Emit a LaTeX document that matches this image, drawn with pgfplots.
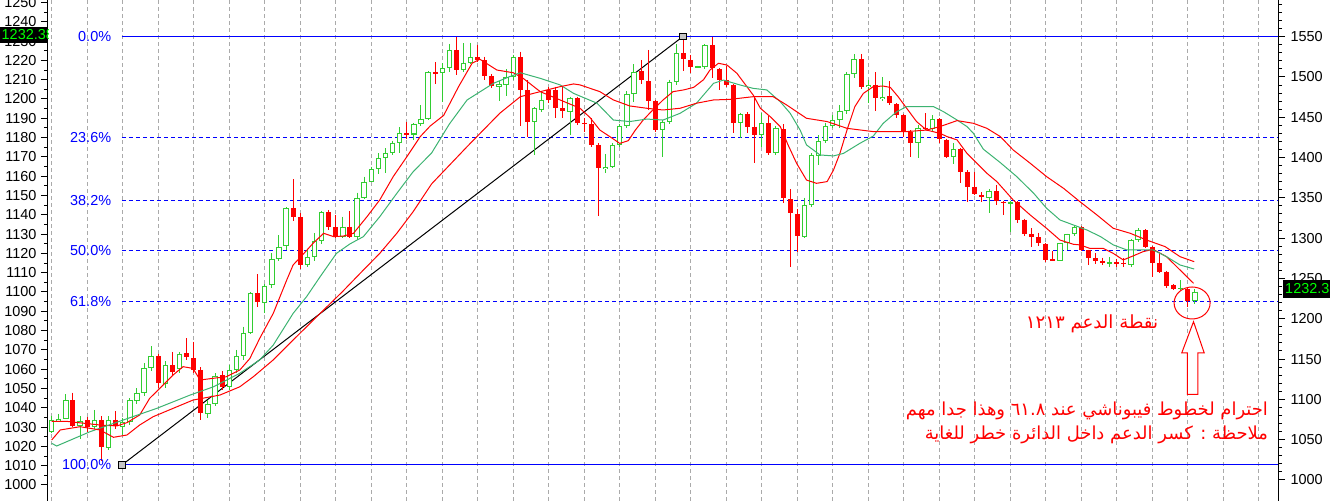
\documentclass[border=0pt]{standalone}
\usepackage{fontspec}
\setmainfont{Liberation Sans}
\newfontfamily\arabicfont[Script=Arabic]{DejaVu Sans}
\TeXXeTstate=1
\usepackage{pgfplots}
\usepackage{pgfplotstable}
\pgfplotsset{compat=1.18}

\definecolor{bull}{RGB}{50,205,50}
\definecolor{bear}{RGB}{255,0,0}
\definecolor{magreen}{RGB}{60,179,113}
\definecolor{fibblue}{RGB}{0,0,255}
\definecolor{gridgray}{RGB}{170,170,170}
\definecolor{pricegreen}{RGB}{0,255,0}

\pgfplotstableread{
i O H L C
0 1027.6 1035.8 1027.0 1033.7
1 1033.3 1036.8 1032.8 1034.4
2 1034.4 1047.0 1034.0 1043.9
4 1030.6 1035.6 1024.0 1033.2
6 1029.9 1038.9 1029.0 1033.7
8 1019.0 1035.8 1018.0 1033.7
10 1030.2 1034.5 1026.0 1032.6
11 1032.6 1045.0 1031.0 1043.8
12 1043.5 1050.0 1042.0 1047.8
13 1047.5 1063.0 1046.0 1060.4
14 1060.4 1072.0 1059.0 1066.8
16 1052.2 1064.0 1050.0 1062.2
18 1060.0 1069.0 1058.0 1068.0
22 1036.8 1044.0 1034.5 1042.0
23 1042.0 1058.0 1041.0 1056.6
25 1050.6 1062.0 1049.0 1059.6
26 1059.6 1070.0 1058.0 1066.8
27 1066.8 1082.0 1065.0 1078.6
28 1078.6 1100.0 1078.0 1099.3
30 1094.1 1104.0 1089.0 1103.3
31 1103.6 1120.0 1102.0 1116.9
32 1116.9 1129.5 1116.0 1123.5
33 1123.8 1144.0 1122.0 1143.3
36 1114.0 1122.0 1113.0 1118.0
37 1118.0 1130.4 1116.0 1126.6
38 1126.6 1142.0 1125.0 1141.3
41 1128.7 1139.0 1128.0 1133.9
43 1128.4 1151.5 1127.0 1148.9
44 1148.9 1159.8 1148.0 1157.2
45 1157.2 1165.0 1157.0 1163.6
46 1163.6 1171.8 1161.0 1169.3
47 1169.3 1174.4 1161.8 1171.8
48 1171.8 1178.4 1171.0 1177.4
49 1177.4 1185.3 1171.8 1182.2
51 1181.6 1187.4 1179.0 1186.9
52 1186.9 1196.9 1186.0 1189.5
53 1189.5 1214.5 1189.0 1213.8
55 1213.6 1218.5 1198.6 1215.9
56 1215.9 1228.5 1214.0 1225.4
58 1215.0 1228.8 1214.0 1218.8
59 1218.8 1229.2 1218.0 1221.6
63 1206.4 1209.5 1199.1 1207.8
64 1207.3 1215.4 1201.6 1211.2
65 1211.2 1223.0 1210.0 1221.6
68 1188.3 1195.7 1171.0 1195.2
69 1194.3 1203.8 1193.0 1199.5
73 1193.4 1201.2 1181.3 1200.3
78 1163.6 1171.5 1161.8 1164.9
79 1164.9 1177.0 1164.0 1176.2
80 1176.2 1187.0 1175.0 1186.0
81 1186.0 1204.0 1185.0 1202.6
82 1202.6 1218.1 1198.6 1214.2
86 1183.9 1189.0 1170.1 1188.3
87 1188.3 1210.0 1187.0 1208.6
88 1208.6 1228.5 1207.0 1223.7
91 1216.2 1217.3 1215.8 1216.9
92 1216.8 1228.5 1215.5 1228.0
97 1187.7 1192.9 1179.6 1192.1
100 1181.3 1192.9 1175.3 1187.4
102 1171.8 1186.0 1171.0 1184.8
106 1128.7 1148.9 1128.0 1145.1
107 1145.1 1172.0 1144.0 1171.0
108 1170.5 1181.3 1165.8 1178.2
109 1178.2 1187.7 1177.0 1186.0
110 1186.0 1191.7 1185.0 1189.1
111 1189.1 1196.9 1184.8 1193.8
112 1193.8 1214.0 1192.0 1212.8
113 1212.8 1223.3 1211.0 1220.6
115 1206.0 1209.8 1197.8 1207.3
117 1199.8 1211.2 1199.1 1201.2
122 1177.0 1186.5 1169.3 1184.8
124 1184.3 1191.7 1183.5 1189.5
127 1169.8 1177.0 1166.1 1173.9
132 1148.5 1153.2 1140.8 1152.5
135 1145.6 1147.0 1131.3 1146.5
142 1116.2 1125.5 1115.8 1125.2
143 1125.2 1130.3 1121.8 1129.9
144 1129.9 1134.7 1129.0 1133.9
149 1114.5 1118.0 1113.1 1115.5
152 1113.8 1127.5 1113.0 1126.9
153 1126.9 1133.0 1126.0 1132.1
159 1101.6 1106.2 1101.0 1102.2
161 1095.5 1101.4 1093.8 1100.2
}\bulltab

\pgfplotstableread{
i O H L C
3 1043.9 1047.8 1029.9 1030.6
5 1033.7 1035.0 1027.6 1029.9
7 1033.7 1035.8 1012.6 1019.5
9 1033.7 1038.3 1029.0 1030.6
15 1066.8 1068.0 1050.0 1052.7
17 1062.2 1069.0 1057.0 1058.4
19 1068.2 1076.0 1065.0 1066.1
20 1065.6 1074.3 1058.0 1059.6
21 1059.6 1061.0 1033.7 1037.1
24 1057.0 1059.0 1049.0 1051.0
29 1099.3 1109.2 1092.4 1095.0
34 1143.3 1158.4 1137.0 1139.0
35 1138.7 1141.0 1112.0 1114.0
39 1141.3 1142.5 1132.0 1133.9
40 1133.5 1139.9 1128.0 1128.7
42 1133.9 1142.0 1128.0 1128.7
50 1182.2 1188.3 1179.5 1181.3
54 1214.0 1219.0 1208.0 1212.8
57 1225.4 1232.3 1212.4 1215.0
60 1221.6 1228.0 1219.0 1220.2
61 1220.2 1221.9 1209.8 1211.9
62 1211.9 1213.0 1205.5 1206.7
66 1221.6 1224.5 1186.0 1204.7
67 1204.7 1209.8 1180.5 1188.3
70 1204.7 1206.0 1198.0 1199.5
71 1204.7 1206.4 1190.0 1195.2
72 1195.2 1206.4 1190.0 1194.0
74 1200.3 1201.2 1186.5 1187.7
75 1187.7 1190.0 1183.1 1187.0
76 1187.0 1190.0 1175.3 1176.2
77 1176.2 1177.0 1139.4 1164.1
83 1214.7 1220.2 1208.0 1209.8
84 1209.3 1225.4 1194.3 1199.0
85 1199.0 1199.5 1183.1 1183.9
89 1223.7 1232.4 1214.7 1220.6
90 1220.2 1222.8 1213.3 1216.8
93 1228.0 1232.0 1210.7 1215.9
94 1215.4 1216.0 1204.7 1209.8
95 1209.8 1217.1 1206.0 1207.3
96 1207.3 1208.0 1182.2 1187.7
98 1192.1 1193.0 1182.5 1185.7
99 1185.7 1200.3 1166.7 1181.3
101 1187.4 1191.2 1171.0 1171.8
103 1184.3 1186.9 1145.9 1148.5
104 1148.0 1153.2 1113.1 1140.8
105 1140.4 1142.8 1120.9 1129.2
114 1220.6 1223.3 1205.0 1206.4
116 1207.3 1213.8 1194.0 1200.3
118 1201.5 1209.3 1197.0 1197.8
119 1197.4 1197.8 1190.0 1191.7
120 1191.7 1192.0 1180.5 1183.1
121 1183.1 1183.9 1170.1 1177.4
123 1185.1 1192.6 1183.9 1184.5
125 1189.5 1190.0 1177.4 1179.1
126 1178.8 1179.5 1169.3 1170.1
128 1173.9 1174.4 1156.6 1162.3
129 1162.3 1163.0 1146.8 1154.6
130 1154.6 1162.3 1150.3 1150.6
131 1150.3 1151.6 1146.8 1149.1
133 1152.3 1155.3 1145.1 1147.3
134 1146.6 1147.0 1139.9 1145.9
136 1146.8 1147.0 1136.0 1137.3
137 1137.3 1138.0 1129.0 1130.1
138 1130.1 1133.0 1123.5 1128.7
139 1128.3 1130.7 1123.8 1125.2
140 1124.9 1125.5 1115.7 1116.6
141 1116.9 1121.2 1116.0 1116.2
145 1133.5 1134.0 1121.0 1121.8
146 1121.8 1122.0 1114.0 1117.4
147 1117.4 1120.0 1114.5 1116.2
148 1116.1 1117.8 1114.0 1114.9
150 1115.5 1117.3 1113.1 1114.5
151 1115.2 1117.4 1113.1 1114.3
154 1132.1 1132.5 1123.0 1123.5
155 1123.5 1124.0 1107.9 1114.9
156 1114.9 1120.0 1109.7 1110.5
157 1110.4 1111.0 1101.9 1103.1
158 1103.5 1104.0 1101.0 1101.7
160 1101.6 1102.5 1092.4 1095.5
}\beartab

\begin{document}
\begin{tikzpicture}[x=1bp,y=1bp]

% main chart
\begin{axis}[
  scale only axis,
  width=1230bp, height=501bp,
  xmin=-0.52, xmax=172.7, ymin=991.7, ymax=1251.3,
  clip=false,
  axis y line*=left, axis x line*=bottom,
  x axis line style={draw=none},
  xtick={0,5,...,170}, xticklabels={},
  xtick style={draw=none},
  xmajorgrids,
  major x grid style={gridgray, line width=1bp, dash pattern=on 4bp off 3bp},
  ytick={1000,1010,...,1250},
  minor ytick={1005,1015,...,1245},
  tick align=outside, major tick length=7bp, minor tick length=4bp,
  ytick style={black, line width=1bp},
  axis line style={line width=1bp, black},
  /pgf/number format/assume math mode=true,
  /pgf/number format/1000 sep={},
  yticklabel style={font=\fontsize{14.5}{15}\selectfont, text=black, xshift=-1bp},
]
\coordinate (O) at (rel axis cs:0,0);
% Fibonacci levels
\addplot[fibblue, line width=1bp, forget plot] coordinates {(9.9,1232.38) (172.7,1232.38)};
\addplot[fibblue, line width=1bp, dash pattern=on 4bp off 3bp, forget plot] coordinates {(9.9,1180.0) (172.7,1180.0)};
\addplot[fibblue, line width=1bp, dash pattern=on 4bp off 3bp, forget plot] coordinates {(9.9,1147.6) (172.7,1147.6)};
\addplot[fibblue, line width=1bp, dash pattern=on 4bp off 3bp, forget plot] coordinates {(9.9,1121.4) (172.7,1121.4)};
\addplot[fibblue, line width=1bp, dash pattern=on 4bp off 3bp, forget plot] coordinates {(9.9,1095.2) (172.7,1095.2)};
\addplot[fibblue, line width=1bp, forget plot] coordinates {(9.9,1010.4) (172.7,1010.4)};

% trend line
\addplot[black, line width=1bp, forget plot] coordinates {(9.9,1010.4) (88.9,1232.38)};

% bear candles: wicks then bodies
\addplot[draw=none, mark=none, forget plot,
  error bars/.cd, y dir=minus, y explicit, error mark=none,
  error bar style={draw=bear, line width=1bp}]
  table[x=i, y=H, y error expr=\thisrow{H}-\thisrow{L}] {\beartab};
\addplot[draw=none, mark=none, forget plot,
  error bars/.cd, y dir=minus, y explicit, error mark=none,
  error bar style={draw=bear, line width=5bp}]
  table[x=i, y=O, y error expr=\thisrow{O}-\thisrow{C}] {\beartab};

% bull candles: wicks, outline bodies, hollow inside
\addplot[draw=none, mark=none, forget plot,
  error bars/.cd, y dir=minus, y explicit, error mark=none,
  error bar style={draw=bull, line width=1bp}]
  table[x=i, y=H, y error expr=\thisrow{H}-\thisrow{L}] {\bulltab};
\addplot[draw=none, mark=none, forget plot,
  error bars/.cd, y dir=minus, y explicit, error mark=none,
  error bar style={draw=bull, line width=5.4bp}]
  table[x=i, y=C, y error expr=\thisrow{C}-\thisrow{O}] {\bulltab};
\addplot[draw=none, mark=none, forget plot,
  error bars/.cd, y dir=minus, y explicit, error mark=none,
  error bar style={draw=white, line width=3.4bp}]
  table[x=i, y expr=\thisrow{C}-0.52, y error expr={max(\thisrow{C}-\thisrow{O}-1.04,0)}] {\bulltab};

% moving averages
\addplot[bear, line width=1bp, mark=none, forget plot] coordinates {
(0,1033) (2,1033) (4.5,1032) (7,1031) (9.2,1030.6) (10.6,1032.3) (12.4,1036.3) (13.8,1044.9) (15.7,1051.8) (17.1,1057) (18.5,1061.3) (19.9,1060.4) (20.9,1054.4) (22.8,1055.3) (24.6,1056.1) (26.5,1059.6) (27.9,1065.5) (29.3,1076) (31.2,1088.9) (33.1,1106.2) (34.0,1114) (35.4,1119.5) (36.8,1125.2) (38.3,1130.4) (39.7,1128.7) (41.1,1129.0) (42.5,1130.4) (44.4,1139.0) (46.2,1147.7) (48.1,1159.8) (50.0,1170) (51.9,1180.5) (53.3,1186) (55.2,1191.5) (57.3,1206.4) (59.2,1218.5) (60.3,1220.6) (62.7,1215.0) (65.0,1213.6) (66.4,1210.7) (68.8,1203.8) (71.6,1199.5) (74.4,1195.2) (75.8,1190.4) (77.2,1183.9) (78.6,1180.5) (80.0,1177) (81.2,1178.4) (82.2,1183.9) (83.3,1189.1) (84.7,1194.5) (86.1,1199.5) (87.5,1203.8) (89.0,1204.7) (90.4,1206) (91.8,1210) (92.7,1215) (93.9,1218.5) (95.1,1217.6) (96.5,1213.3) (97.9,1206.4) (98.8,1202) (99.8,1195.2) (101.2,1190.8) (102.6,1185.7) (103.7,1176.2) (104.9,1166.7) (106.3,1158.0) (107.7,1156.3) (109.2,1157.2) (110.1,1163.2) (111.0,1171.8) (112.0,1183.9) (113.1,1196.0) (114.3,1202.9) (115.7,1206.4) (117.1,1206.7) (118.1,1206.0) (119.2,1201.2) (120.4,1195.2) (121.8,1188.3) (123.2,1183.9) (125.1,1182.2) (126.1,1180.5) (127.5,1178.8) (128.9,1171.8) (130.3,1166.7) (131.7,1161.5) (133.1,1157.2) (135.4,1147.7) (137.8,1139.9) (140.1,1133.0) (142.0,1126.9) (143.9,1124.7) (144.8,1124.4) (146.2,1122.6) (148.1,1122.6) (149.5,1120.0) (150.9,1116.6) (152.3,1118.7) (153.7,1120.9) (155.1,1122.1) (157.0,1118.3) (158.9,1111.4) (160.8,1104.5)};
\addplot[magreen, line width=1bp, mark=none, forget plot] coordinates {
(0,1021.6) (0.7,1020.2) (5.4,1027.6) (10.1,1033.7) (14.8,1039.7) (19.5,1046.6) (22.8,1050.9) (26.5,1057.9) (29.3,1064.8) (31.2,1072.5) (34.0,1088.9) (35.9,1097.6) (37.8,1107.9) (40.1,1120) (42.0,1124.9) (43.9,1128.7) (46.2,1139) (48.6,1151.1) (50.9,1162.3) (53.5,1172) (56,1187) (58.5,1199.5) (62.2,1208.1) (64.5,1211.6) (66.0,1213.6) (68.8,1210.7) (71.6,1207.3) (73.5,1202.9) (76.8,1197.8) (79.1,1189.1) (81.4,1188.3) (83.8,1189.6) (86.1,1189.1) (88.5,1192.6) (90.8,1197.8) (93.2,1208.1) (94.6,1209.8) (96.9,1207.3) (98.8,1205.5) (100.7,1204.7) (102.6,1198.6) (104.0,1192.6) (105.4,1183.9) (106.3,1176.2) (108.2,1171.0) (110.1,1170.5) (111.5,1171.8) (113.8,1177.0) (115.7,1180.8) (117.1,1187.4) (119.0,1193.4) (120.4,1196.0) (124.2,1196.0) (125.6,1193.4) (127.5,1189.1) (128.9,1185.7) (129.8,1182.2) (131.2,1174) (133.6,1167) (135.9,1159.8) (138.3,1151.1) (140.1,1143.4) (142.0,1137.3) (143.9,1134.7) (145.8,1132.1) (147.7,1128.7) (149.5,1124.4) (151.4,1121.8) (153.3,1121.8) (155.1,1121.8) (157.0,1118.3) (158.9,1114.0) (160.9,1111.9)};
\addplot[bear, line width=1bp, mark=none, forget plot] coordinates {
(0,1023.3) (1.2,1028.5) (4.0,1030.2) (6.8,1028.5) (8.7,1024.7) (10.6,1025.9) (12.4,1031.1) (14.3,1035.4) (17.1,1039.7) (19.9,1044) (23.7,1046.6) (26.5,1050.9) (28.4,1056.1) (31.2,1064.8) (34.0,1075.1) (37.8,1088.9) (40.9,1100) (43.9,1111.4) (46.2,1120) (48.6,1130.4) (50.9,1141.6) (53.5,1156) (58.5,1175.3) (63.1,1192.6) (66.0,1201.2) (68.8,1203.8) (71.6,1206.4) (73.5,1207.8) (74.4,1207.3) (77.2,1203.8) (79.1,1199.5) (81.4,1196.4) (83.8,1195.2) (86.1,1194.3) (88.5,1195.2) (90.8,1197.8) (93.2,1199.5) (95.5,1199.8) (98.8,1201.2) (101.6,1201.2) (103.5,1196.9) (106.3,1190.0) (109.2,1188.3) (112.0,1184.8) (115.7,1183.1) (120.4,1183.1) (123.2,1183.9) (125.1,1185.7) (127.5,1188.8) (129.8,1187.4) (131.7,1184.8) (133.6,1180.5) (135.4,1173.6) (137.8,1166.7) (140.1,1159.8) (142.5,1153.7) (144.8,1146.8) (147.2,1139.9) (149.5,1133.0) (151.9,1130.4) (154.2,1126.9) (156.8,1123.5) (158.9,1118.3) (160.9,1115.7)};

% trend line anchors
\addplot[only marks, mark=square*, mark size=3.3bp, mark options={fill=gray!45, draw=black, line width=0.8bp}, forget plot]
  coordinates {(9.9,1010.4) (88.9,1232.38)};

% fib labels
\begin{scope}[every node/.style={anchor=east, text=fibblue, font=\fontsize{14.5}{15}\selectfont, inner sep=0pt}]
\node at (axis cs:8.4,1232.38) {0.0\%};
\node at (axis cs:8.4,1180.0) {23.6\%};
\node at (axis cs:8.4,1147.6) {38.2\%};
\node at (axis cs:8.4,1121.4) {50.0\%};
\node at (axis cs:8.4,1095.2) {61.8\%};
\node at (axis cs:8.4,1010.4) {100.0\%};
\end{scope}

% annotations
\draw[bear, line width=1bp] (axis cs:160.6,1094.3) ellipse [x radius=18bp, y radius=16bp];
\draw[bear, line width=1bp, fill=white]
  (axis cs:160.8,1084.6) -- (axis cs:162.3,1068.5) -- (axis cs:161.4,1068.5) -- (axis cs:161.4,1047.0)
  -- (axis cs:159.95,1047.0) -- (axis cs:159.95,1068.5) -- (axis cs:159.15,1068.5) -- cycle;
\node[text=bear, font=\arabicfont\fontsize{18.2}{20}\selectfont, inner sep=0pt] at (axis cs:146.5,1083.4)
  {\beginR نقطة الدعم ١٢١٣\endR};
\node[text=bear, font=\arabicfont\fontsize{18}{20}\selectfont, anchor=east, inner sep=0pt] at (axis cs:171.3,1038.3)
  {\beginR احترام لخطوط فيبوناشي عند ٦١.٨ وهذا جدا مهم\endR};
\node[text=bear, font=\arabicfont\fontsize{18}{20}\selectfont, anchor=east, inner sep=0pt] at (axis cs:171.3,1025.9)
  {\beginR ملاحظة : كسر الدعم داخل الدائرة خطر للغاية\endR};
\end{axis}

% right-hand price scale
\begin{axis}[
  at={(O)}, anchor=south west, scale only axis,
  width=1230bp, height=501bp,
  xmin=0, xmax=1, ymin=973.9, ymax=1595.5,
  axis y line*=right, axis x line=none,
  ytick={1000,1050,...,1550},
  minor ytick={1010,1020,...,1590},
  tick align=outside, major tick length=7bp, minor tick length=4bp,
  every tick/.style={black, line width=1bp},
  axis line style={line width=1bp, black},
  /pgf/number format/assume math mode=true,
  /pgf/number format/1000 sep={},
  yticklabel style={font=\fontsize{14.5}{15}\selectfont, text=black, xshift=2bp},
]
\addplot[draw=none, mark=none] coordinates {(0,1000) (1,1000)};
\end{axis}

\begin{scope}[shift={(O)}]
% price tags
\fill[black] (-48,457.7) rectangle (0.3,474.3);
\begin{scope}
\clip (-48,457.7) rectangle (0.3,474.3);
\node[anchor=west, text=pricegreen, font=\fontsize{14.5}{15}\selectfont, inner sep=0pt] at (-46.5,466) {1232.38};
\end{scope}
\fill[black] (1235,203.3) rectangle (1282,221);
\begin{scope}
\clip (1235,203.3) rectangle (1282,221);
\node[anchor=west, text=pricegreen, font=\fontsize{14.5}{15}\selectfont, inner sep=0pt] at (1237,212.2) {1232.38};
\end{scope}
\pgfresetboundingbox
\path[use as bounding box] (-48,0) rectangle (1282,501);
\end{scope}
\end{tikzpicture}
\end{document}
